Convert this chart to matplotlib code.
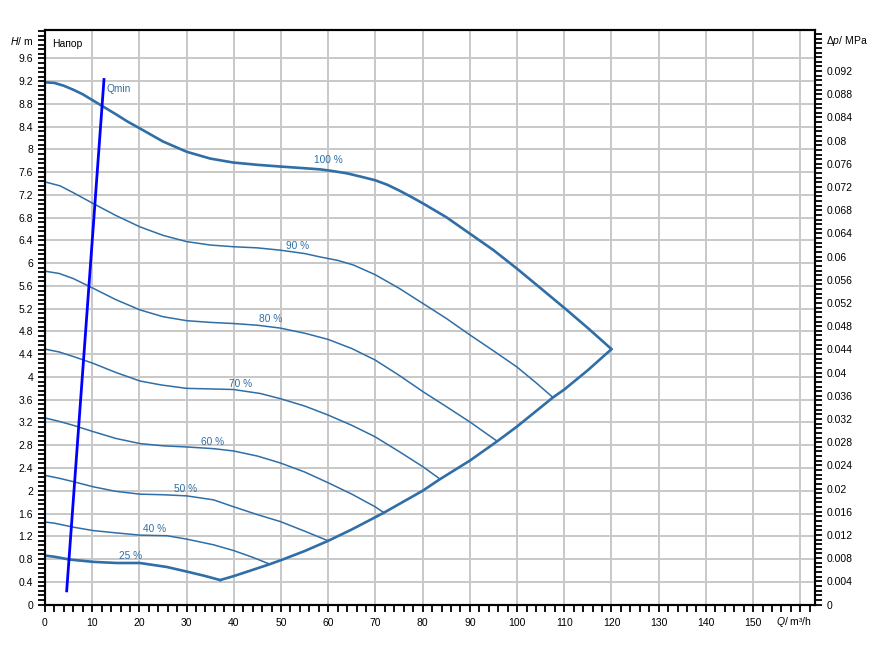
import matplotlib
matplotlib.use("Agg")
import matplotlib.pyplot as plt
import numpy as np

# ---- data ----
q100 = [0, 2, 4, 6, 8, 10, 12.4, 15, 17.5, 20.1, 25, 30.0, 35, 39.9, 45, 49.8, 55, 58.3, 61, 64, 67, 69.9, 72.5, 75, 77.5, 80.1, 85, 90.0, 95, 99.9, 105, 110.5, 115, 120.0]
h100 = [9.18, 9.17, 9.12, 9.05, 8.97, 8.87, 8.75, 8.62, 8.49, 8.37, 8.14, 7.96, 7.84, 7.77, 7.73, 7.70, 7.67, 7.65, 7.62, 7.58, 7.52, 7.46, 7.38, 7.28, 7.17, 7.05, 6.81, 6.52, 6.23, 5.91, 5.56, 5.18, 4.86, 4.49]

q90 = [0, 3.2, 6, 10.2, 15, 20.1, 25, 30.0, 35, 39.9, 45, 49.8, 55, 58.3, 62, 65.3, 69.9, 75, 80.1, 85, 90.0, 95, 99.9, 104, 107.6]
h90 = [7.43, 7.36, 7.24, 7.05, 6.84, 6.64, 6.49, 6.38, 6.32, 6.29, 6.27, 6.23, 6.17, 6.11, 6.05, 5.97, 5.80, 5.56, 5.29, 5.03, 4.74, 4.46, 4.18, 3.90, 3.64]

q80 = [0, 3, 6.0, 10.2, 15, 20.1, 25, 30.0, 35, 39.9, 45, 49.8, 55, 60, 65, 69.9, 75, 80.1, 85, 90.0, 95.8]
h80 = [5.86, 5.82, 5.73, 5.56, 5.36, 5.18, 5.06, 4.99, 4.96, 4.94, 4.91, 4.86, 4.77, 4.66, 4.50, 4.30, 4.03, 3.74, 3.48, 3.21, 2.87]

q70 = [0, 3, 6.0, 10.2, 15, 20.1, 24.6, 30.0, 35, 39.9, 45.6, 49.8, 55, 60, 65, 69.9, 75, 80.1, 83.6]
h70 = [4.49, 4.44, 4.36, 4.24, 4.08, 3.93, 3.86, 3.80, 3.79, 3.78, 3.71, 3.62, 3.49, 3.33, 3.15, 2.95, 2.69, 2.42, 2.21]

q60 = [0, 3, 6.0, 10.2, 15, 20.1, 25, 30.0, 35.7, 39.9, 45, 49.8, 55, 60, 65, 69.9, 71.7]
h60 = [3.28, 3.22, 3.15, 3.04, 2.92, 2.83, 2.79, 2.77, 2.74, 2.70, 2.61, 2.49, 2.33, 2.14, 1.94, 1.72, 1.62]

q50 = [0, 3, 6.0, 10.2, 15, 20.1, 25, 30.0, 35.7, 39.9, 45, 49.8, 55, 60.0]
h50 = [2.27, 2.22, 2.16, 2.07, 1.99, 1.94, 1.93, 1.91, 1.84, 1.72, 1.58, 1.46, 1.29, 1.12]

q40 = [0, 2, 6.0, 10.2, 15, 20.1, 25.8, 30.0, 35.7, 39.9, 44, 47.3]
h40 = [1.45, 1.43, 1.36, 1.30, 1.26, 1.22, 1.21, 1.15, 1.05, 0.95, 0.83, 0.72]

q25 = [0, 2, 5.3, 10.2, 15.2, 20.1, 25.8, 30.0, 34, 37.1]
h25 = [0.86, 0.84, 0.79, 0.75, 0.73, 0.73, 0.66, 0.58, 0.50, 0.43]

q_sys = [37.1, 40, 47.3, 50, 55, 60, 65, 71.7, 80, 83.6, 90, 95.8, 100, 107.6, 110, 115, 120]
h_sys = [0.43, 0.50, 0.70, 0.78, 0.94, 1.12, 1.32, 1.61, 2.00, 2.20, 2.53, 2.87, 3.13, 3.64, 3.78, 4.12, 4.49]

q_min = [4.6, 12.5]
h_min = [0.24, 9.23]

labels = ["100 %", "90 %", "80 %", "70 %", "60 %", "50 %", "40 %", "25 %"]
label_q = [60.0, 53.6, 47.7, 41.5, 35.6, 29.7, 23.3, 18.2]
label_h = [7.81, 6.30, 5.02, 3.87, 2.86, 2.03, 1.33, 0.85]

x_ticks = list(range(0, 161, 10))
y_ticks = [round(0.4 * i, 1) for i in range(25)]
dp_ticks = [round(0.004 * i, 3) for i in range(24)]

RHO_G = 0.00981  # MPa per m

# ---- drawing ----
plt.rcParams['font.family'] = ['Liberation Sans', 'DejaVu Sans']
plt.rcParams['mathtext.fontset'] = 'custom'
plt.rcParams['mathtext.it'] = 'Liberation Sans:italic'
plt.rcParams['mathtext.rm'] = 'Liberation Sans'
fig = plt.figure(figsize=(8.75, 6.51), dpi=100)
ax = fig.add_axes([0.0514, 0.0714, 0.88, 0.8825])

col = '#2f6ea6'
ax.plot(q100, h100, color=col, lw=1.9, solid_capstyle='round', solid_joinstyle='round', zorder=3)
for qq, hh in [(q90, h90), (q80, h80), (q70, h70), (q60, h60), (q50, h50), (q40, h40)]:
    ax.plot(qq, hh, color=col, lw=1.1, solid_joinstyle='round', zorder=3)
ax.plot(q25, h25, color=col, lw=1.9, solid_joinstyle='round', zorder=3)
ax.plot(q_sys, h_sys, color=col, lw=1.9, solid_capstyle='round', solid_joinstyle='round', zorder=3)
ax.plot(q_min, h_min, color='#0000ff', lw=2.0, zorder=4)

for t, xq, yh in zip(labels, label_q, label_h):
    ax.text(xq, yh, t, color=col, fontsize=7.3, ha='center', va='center', zorder=5)
ax.text(13.1, 9.07, "Qmin", color=col, fontsize=7.3, ha='left', va='center')

xmax, ymax = 163.1, 10.1
ax.set_xlim(0, xmax)
ax.set_ylim(0, ymax)
ax.set_xticks(x_ticks)
ax.set_xticklabels([str(v) for v in x_ticks[:-1]] + [''])
ax.set_xticks(np.arange(0, 163, 2), minor=True)
ax.set_yticks(y_ticks)
ax.set_yticklabels([f"{v:g}" for v in y_ticks])
ax.set_yticks(np.arange(0, 10.1, 0.08), minor=True)
ax.grid(True, which='major', color='#c8c8c8', lw=1.4)
ax.set_axisbelow(True)
for s in ax.spines.values():
    s.set_linewidth(1.5)
ax.tick_params(which='both', direction='out', length=5, width=1.3, labelsize=7.5, colors='black')
ax.tick_params(axis='x', pad=5)

ax2 = ax.twinx()
ax2.set_ylim(0, ymax * RHO_G)
ax2.set_yticks(dp_ticks)
ax2.set_yticklabels([f"{v:g}" for v in dp_ticks])
ax2.set_yticks(np.arange(0, ymax * RHO_G, 0.0008), minor=True)
ax2.tick_params(which='both', direction='out', length=5, width=1.3, labelsize=7.5, colors='black')
for s in ax2.spines.values():
    s.set_linewidth(1.5)

ax.text(0.009, 0.985, "Напор", transform=ax.transAxes, fontsize=7.5, ha='left', va='top')
fig.text(10 / 875, 1 - 41 / 651, "$H$/ m", fontsize=7.5, ha='left', va='center')
fig.text(826 / 875, 1 - 41 / 651, r"$\Delta p$/ MPa", fontsize=7.5, ha='left', va='center')
fig.text(794 / 875, 1 - 622 / 651, "$Q$/ m³/h", fontsize=7.5, ha='center', va='center')

fig.savefig("out.png", dpi=100)
